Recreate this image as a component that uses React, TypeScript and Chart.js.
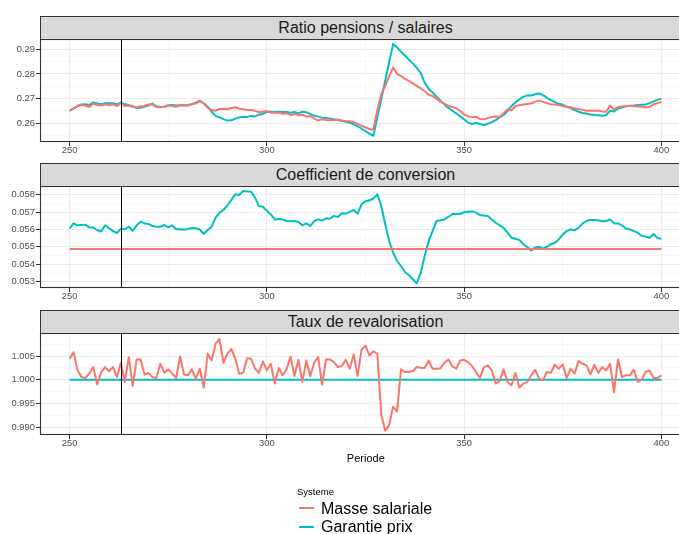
import React, { useEffect, useRef } from "react";
import { Chart, registerables } from "chart.js";
Chart.register(...registerables);

const FIRST_PERIOD = 250;
const MARKER_PERIOD = 263;
const X_MIN = 242.5;
const X_MAX = 407.5;
const seriesNames = ["Masse salariale", "Garantie prix"];
const seriesColors = ["#F8766D", "#00BFC4"];
const xMajorTicks = [250, 300, 350, 400];
const xMinorTicks = [275, 325, 375];

const ratioMasse = [
  0.2651, 0.2661, 0.2670, 0.2674, 0.2672, 0.2666, 0.2680, 0.2674, 0.2672, 0.2677,
  0.2673, 0.2677, 0.2670, 0.2681, 0.2670, 0.2672, 0.2667, 0.2665, 0.2669, 0.2670,
  0.2676, 0.2676, 0.2666, 0.2665, 0.2667, 0.2673, 0.2670, 0.2667, 0.2673, 0.2672,
  0.2672, 0.2677, 0.2681, 0.2689, 0.2681, 0.2663, 0.2654, 0.2651, 0.2658, 0.2659,
  0.2657, 0.2662, 0.2665, 0.2659, 0.2657, 0.2654, 0.2654, 0.2651, 0.2645, 0.2647,
  0.2650, 0.2643, 0.2643, 0.2643, 0.2639, 0.2640, 0.2634, 0.2638, 0.2632, 0.2635,
  0.2627, 0.2630, 0.2619, 0.2612, 0.2616, 0.2613, 0.2612, 0.2613, 0.2615, 0.2611,
  0.2609, 0.2608, 0.2604, 0.2598, 0.2590, 0.2583, 0.2577, 0.2574, 0.2655, 0.2718,
  0.2752, 0.2790, 0.2827, 0.2800, 0.2792, 0.2780, 0.2772, 0.2762, 0.2752, 0.2742,
  0.2730, 0.2716, 0.2710, 0.2700, 0.2688, 0.2680, 0.2670, 0.2666, 0.2661, 0.2650,
  0.2636, 0.2628, 0.2624, 0.2627, 0.2617, 0.2616, 0.2621, 0.2626, 0.2628, 0.2627,
  0.2641, 0.2657, 0.2652, 0.2670, 0.2673, 0.2676, 0.2678, 0.2680, 0.2688, 0.2692,
  0.2687, 0.2682, 0.2677, 0.2676, 0.2674, 0.2670, 0.2667, 0.2665, 0.2660, 0.2658,
  0.2655, 0.2651, 0.2652, 0.2651, 0.2652, 0.2648, 0.2647, 0.2672, 0.2656, 0.2666,
  0.2668, 0.2670, 0.2670, 0.2669, 0.2668, 0.2667, 0.2665, 0.2667, 0.2677, 0.2682,
  0.2686,
];

const ratioGarantie = [
  0.2651, 0.2659, 0.2670, 0.2676, 0.2677, 0.2674, 0.2685, 0.2680, 0.2677, 0.2681,
  0.2681, 0.2681, 0.2677, 0.2684, 0.2678, 0.2673, 0.2670, 0.2662, 0.2663, 0.2667,
  0.2673, 0.2680, 0.2669, 0.2666, 0.2667, 0.2672, 0.2674, 0.2672, 0.2673, 0.2673,
  0.2673, 0.2678, 0.2684, 0.2692, 0.2681, 0.2667, 0.2647, 0.2630, 0.2624, 0.2617,
  0.2611, 0.2612, 0.2619, 0.2624, 0.2627, 0.2626, 0.2630, 0.2628, 0.2635, 0.2638,
  0.2646, 0.2647, 0.2646, 0.2647, 0.2646, 0.2646, 0.2643, 0.2646, 0.2640, 0.2647,
  0.2645, 0.2638, 0.2631, 0.2627, 0.2623, 0.2622, 0.2619, 0.2616, 0.2613, 0.2609,
  0.2606, 0.2602, 0.2596, 0.2588, 0.2578, 0.2568, 0.2558, 0.2549, 0.2624, 0.2698,
  0.2773, 0.2848, 0.2922, 0.2908, 0.2890, 0.2875, 0.2858, 0.2843, 0.2825, 0.2803,
  0.2765, 0.2740, 0.2725, 0.2708, 0.2692, 0.2676, 0.2662, 0.2652, 0.2640, 0.2628,
  0.2616, 0.2603, 0.2597, 0.2601, 0.2597, 0.2593, 0.2598, 0.2605, 0.2613, 0.2624,
  0.2634, 0.2650, 0.2670, 0.2684, 0.2697, 0.2707, 0.2713, 0.2713, 0.2718, 0.2721,
  0.2714, 0.2703, 0.2694, 0.2686, 0.2679, 0.2675, 0.2668, 0.2662, 0.2654, 0.2647,
  0.2642, 0.2640, 0.2636, 0.2634, 0.2633, 0.2631, 0.2633, 0.2651, 0.2648, 0.2660,
  0.2664, 0.2669, 0.2671, 0.2672, 0.2674, 0.2675, 0.2676, 0.2682, 0.2689, 0.2695,
  0.2700,
];

const coefMasse = [
  0.05488, 0.05488, 0.05488, 0.05488, 0.05488, 0.05488, 0.05488, 0.05488, 0.05488, 0.05488,
  0.05488, 0.05488, 0.05488, 0.05488, 0.05488, 0.05488, 0.05488, 0.05488, 0.05488, 0.05488,
  0.05488, 0.05488, 0.05488, 0.05488, 0.05488, 0.05488, 0.05488, 0.05488, 0.05488, 0.05488,
  0.05488, 0.05488, 0.05488, 0.05488, 0.05488, 0.05488, 0.05488, 0.05488, 0.05488, 0.05488,
  0.05488, 0.05488, 0.05488, 0.05488, 0.05488, 0.05488, 0.05488, 0.05488, 0.05488, 0.05488,
  0.05488, 0.05488, 0.05488, 0.05488, 0.05488, 0.05488, 0.05488, 0.05488, 0.05488, 0.05488,
  0.05488, 0.05488, 0.05488, 0.05488, 0.05488, 0.05488, 0.05488, 0.05488, 0.05488, 0.05488,
  0.05488, 0.05488, 0.05488, 0.05488, 0.05488, 0.05488, 0.05488, 0.05488, 0.05488, 0.05488,
  0.05488, 0.05488, 0.05488, 0.05488, 0.05488, 0.05488, 0.05488, 0.05488, 0.05488, 0.05488,
  0.05488, 0.05488, 0.05488, 0.05488, 0.05488, 0.05488, 0.05488, 0.05488, 0.05488, 0.05488,
  0.05488, 0.05488, 0.05488, 0.05488, 0.05488, 0.05488, 0.05488, 0.05488, 0.05488, 0.05488,
  0.05488, 0.05488, 0.05488, 0.05488, 0.05488, 0.05488, 0.05488, 0.05488, 0.05488, 0.05488,
  0.05488, 0.05488, 0.05488, 0.05488, 0.05488, 0.05488, 0.05488, 0.05488, 0.05488, 0.05488,
  0.05488, 0.05488, 0.05488, 0.05488, 0.05488, 0.05488, 0.05488, 0.05488, 0.05488, 0.05488,
  0.05488, 0.05488, 0.05488, 0.05488, 0.05488, 0.05488, 0.05488, 0.05488, 0.05488, 0.05488,
  0.05488,
];

const coefGarantie = [
  0.05605, 0.05635, 0.05624, 0.05626, 0.05628, 0.05611, 0.05611, 0.05597, 0.05588, 0.05624,
  0.05607, 0.05591, 0.05580, 0.05605, 0.05601, 0.05616, 0.05593, 0.05624, 0.05645, 0.05635,
  0.05632, 0.05620, 0.05616, 0.05616, 0.05626, 0.05612, 0.05624, 0.05601, 0.05601, 0.05599,
  0.05603, 0.05609, 0.05607, 0.05599, 0.05576, 0.05597, 0.05616, 0.05668, 0.05697, 0.05712,
  0.05739, 0.05770, 0.05802, 0.05798, 0.05821, 0.05819, 0.05817, 0.05783, 0.05735, 0.05731,
  0.05708, 0.05687, 0.05658, 0.05660, 0.05658, 0.05649, 0.05647, 0.05649, 0.05643, 0.05624,
  0.05635, 0.05620, 0.05649, 0.05658, 0.05651, 0.05664, 0.05662, 0.05678, 0.05672, 0.05693,
  0.05691, 0.05701, 0.05712, 0.05691, 0.05745, 0.05762, 0.05768, 0.05777, 0.05802, 0.05735,
  0.05630, 0.05534, 0.05467, 0.05419, 0.05390, 0.05356, 0.05337, 0.05314, 0.05291, 0.05352,
  0.05448, 0.05534, 0.05591, 0.05649, 0.05653, 0.05658, 0.05672, 0.05689, 0.05689, 0.05689,
  0.05699, 0.05702, 0.05704, 0.05697, 0.05683, 0.05681, 0.05678, 0.05658, 0.05639, 0.05624,
  0.05609, 0.05582, 0.05553, 0.05547, 0.05540, 0.05515, 0.05499, 0.05480, 0.05496, 0.05501,
  0.05490, 0.05501, 0.05515, 0.05524, 0.05543, 0.05572, 0.05591, 0.05601, 0.05595, 0.05611,
  0.05634, 0.05649, 0.05655, 0.05655, 0.05653, 0.05647, 0.05649, 0.05658, 0.05635, 0.05635,
  0.05624, 0.05605, 0.05601, 0.05591, 0.05582, 0.05563, 0.05559, 0.05553, 0.05574, 0.05551,
  0.05547,
];

const tauxMasse = [
  1.00441, 1.00580, 1.00198, 1.00059, 1.00038, 1.00128, 1.00267, 0.99899, 1.00163, 1.00267,
  1.00177, 1.00267, 1.00059, 1.00358, 0.99955, 1.00476, 0.99872, 1.00427, 1.00427, 1.00108,
  1.00142, 1.00059, 1.00038, 1.00337, 1.00149, 1.00219, 1.00128, 1.00038, 1.00490, 1.00108,
  1.00094, 1.00219, 1.00024, 1.00233, 0.99837, 1.00545, 1.00406, 1.00753, 1.00858, 1.00358,
  1.00545, 1.00649, 1.00441, 1.00128, 1.00149, 1.00455, 1.00441, 1.00233, 1.00149, 1.00385,
  1.00198, 1.00337, 0.99920, 1.00247, 1.00094, 1.00219, 1.00483, 1.00080, 1.00420, 0.99955,
  1.00406, 1.00073, 1.00358, 1.00476, 0.99899, 1.00427, 1.00427, 1.00372, 1.00267, 1.00288,
  1.00420, 1.00233, 1.00531, 1.00080, 1.00635, 1.00719, 1.00510, 1.00601, 1.00545, 0.99260,
  0.98927, 0.99052, 0.99434, 0.99330, 1.00219, 1.00163, 1.00163, 1.00184, 1.00267, 1.00253,
  1.00247, 1.00406, 1.00233, 1.00233, 1.00240, 1.00358, 1.00427, 1.00281, 1.00233, 1.00406,
  1.00420, 1.00372, 1.00288, 1.00163, 1.00038, 1.00267, 1.00302, 1.00198, 0.99920, 0.99976,
  1.00219, 0.99955, 0.99885, 1.00142, 0.99837, 0.99920, 0.99955, 1.00094, 1.00212, 1.00024,
  0.99990, 1.00163, 1.00149, 1.00316, 1.00233, 1.00323, 1.00038, 1.00233, 1.00128, 1.00392,
  1.00337, 1.00302, 1.00115, 1.00316, 1.00142, 1.00267, 1.00198, 1.00337, 0.99733, 1.00427,
  1.00059, 1.00094, 1.00094, 1.00212, 0.99955, 1.00003, 1.00163, 1.00198, 1.00038, 1.00038,
  1.00094,
];

const tauxGarantie = [
  1, 1, 1, 1, 1, 1, 1, 1, 1, 1,
  1, 1, 1, 1, 1, 1, 1, 1, 1, 1,
  1, 1, 1, 1, 1, 1, 1, 1, 1, 1,
  1, 1, 1, 1, 1, 1, 1, 1, 1, 1,
  1, 1, 1, 1, 1, 1, 1, 1, 1, 1,
  1, 1, 1, 1, 1, 1, 1, 1, 1, 1,
  1, 1, 1, 1, 1, 1, 1, 1, 1, 1,
  1, 1, 1, 1, 1, 1, 1, 1, 1, 1,
  1, 1, 1, 1, 1, 1, 1, 1, 1, 1,
  1, 1, 1, 1, 1, 1, 1, 1, 1, 1,
  1, 1, 1, 1, 1, 1, 1, 1, 1, 1,
  1, 1, 1, 1, 1, 1, 1, 1, 1, 1,
  1, 1, 1, 1, 1, 1, 1, 1, 1, 1,
  1, 1, 1, 1, 1, 1, 1, 1, 1, 1,
  1, 1, 1, 1, 1, 1, 1, 1, 1, 1,
  1,
];

const ratioMajorTicks = [0.26, 0.27, 0.28, 0.29];
const ratioMinorTicks = [0.255, 0.265, 0.275, 0.285];
const coefMajorTicks = [0.053, 0.054, 0.055, 0.056, 0.057, 0.058];
const coefMinorTicks = [0.0535, 0.0545, 0.0555, 0.0565, 0.0575, 0.0585];
const tauxMajorTicks = [0.99, 0.995, 1.0, 1.005];
const tauxMinorTicks = [0.9925, 0.9975, 1.0025, 1.0075];

const FONT = "'Liberation Sans', Arial, Helvetica, sans-serif";
const CANVAS_W = 691;
const PAD_TOP = 6;
const X_AXIS_H = 18;

type PanelDef = {
  title: string;
  series: number[][];
  yMin: number;
  yMax: number;
  major: number[];
  minor: number[];
  decimals: number;
  plotTop: number;
  plotBottom: number;
};

const panels: PanelDef[] = [
  { title: "Ratio pensions / salaires", series: [ratioMasse, ratioGarantie], yMin: 0.25242, yMax: 0.29418,
    major: ratioMajorTicks, minor: ratioMinorTicks, decimals: 2, plotTop: 39, plotBottom: 142 },
  { title: "Coefficient de conversion", series: [coefMasse, coefGarantie], yMin: 0.052638, yMax: 0.0585,
    major: coefMajorTicks, minor: coefMinorTicks, decimals: 3, plotTop: 186, plotBottom: 288 },
  { title: "Taux de revalorisation", series: [tauxMasse, tauxGarantie], yMin: 0.98838, yMax: 1.00984,
    major: tauxMajorTicks, minor: tauxMinorTicks, decimals: 3, plotTop: 333, plotBottom: 435 },
];

const isIn = (arr: number[], v: number) => arr.some((a) => Math.abs(a - v) < 1e-9);

const framePlugin = {
  id: "panelFrame",
  afterDatasetsDraw(chart: any) {
    const { ctx, chartArea: a, scales } = chart;
    ctx.save();
    const vx = Math.round(scales.x.getPixelForValue(MARKER_PERIOD)) + 0.5;
    ctx.strokeStyle = "#000000";
    ctx.lineWidth = 1;
    ctx.beginPath();
    ctx.moveTo(vx, a.top);
    ctx.lineTo(vx, a.bottom);
    ctx.stroke();
    ctx.strokeStyle = "#333333";
    ctx.lineWidth = 1.1;
    ctx.strokeRect(a.left + 0.5, a.top + 0.5, a.right - a.left - 1, a.bottom - a.top - 1);
    ctx.restore();
  },
};

function Panel({ def }: { def: PanelDef }) {
  const ref = useRef<HTMLCanvasElement | null>(null);
  const height = PAD_TOP + (def.plotBottom - def.plotTop) + X_AXIS_H;
  useEffect(() => {
    if (!ref.current) return;
    const periods = def.series[0].map((_, i) => FIRST_PERIOD + i);
    const datasets = def.series.map((vals, s) => ({
      label: seriesNames[s],
      data: periods.map((p, i) => ({ x: p, y: vals[i] })),
      borderColor: seriesColors[s],
      backgroundColor: seriesColors[s],
      borderWidth: 2,
      pointRadius: 0,
      tension: 0,
      fill: false,
      borderJoinStyle: "round" as const,
    }));
    const xAll = [...xMajorTicks, ...xMinorTicks].sort((a, b) => a - b);
    const yAll = [...def.major, ...def.minor].sort((a, b) => a - b);
    const gridColor = (maj: number[]) => (c: any) =>
      c.tick && isIn(maj, c.tick.value) ? "#EBEBEB" : "#F3F3F3";
    const gridWidth = (maj: number[]) => (c: any) =>
      c.tick && isIn(maj, c.tick.value) ? 1 : 0.6;
    const tickColor = (maj: number[]) => (c: any) =>
      c.tick && isIn(maj, c.tick.value) ? "#333333" : "rgba(0,0,0,0)";
    const chart = new Chart(ref.current, {
      type: "line",
      data: { datasets },
      plugins: [framePlugin],
      options: {
        responsive: false,
        animation: false,
        devicePixelRatio: 1,
        layout: { padding: { top: PAD_TOP, left: 0, right: 0, bottom: 0 } },
        plugins: { legend: { display: false }, tooltip: { enabled: false }, title: { display: false } },
        scales: {
          x: {
            type: "linear",
            min: X_MIN,
            max: X_MAX,
            afterBuildTicks: (axis: any) => {
              axis.ticks = xAll.map((v) => ({ value: v }));
            },
            afterFit: (axis: any) => {
              axis.height = X_AXIS_H;
            },
            ticks: {
              autoSkip: false,
              maxRotation: 0,
              padding: 0,
              color: "#4D4D4D",
              font: { family: FONT, size: 9.4, lineHeight: 1 },
              callback: (v: any) => (isIn(xMajorTicks, Number(v)) ? String(v) : ""),
            },
            grid: {
              color: gridColor(xMajorTicks),
              lineWidth: gridWidth(xMajorTicks),
              tickColor: tickColor(xMajorTicks),
              tickLength: 4,
              tickWidth: 1,
            },
            border: { display: false },
          },
          y: {
            type: "linear",
            min: def.yMin,
            max: def.yMax,
            afterBuildTicks: (axis: any) => {
              axis.ticks = yAll.map((v) => ({ value: v }));
            },
            afterFit: (axis: any) => {
              axis.width = 40;
            },
            ticks: {
              autoSkip: false,
              padding: 1,
              color: "#4D4D4D",
              font: { family: FONT, size: 9.4, lineHeight: 1 },
              callback: (v: any) =>
                isIn(def.major, Number(v)) ? Number(v).toFixed(def.decimals) : "",
            },
            grid: {
              color: gridColor(def.major),
              lineWidth: gridWidth(def.major),
              tickColor: tickColor(def.major),
              tickLength: 4,
              tickWidth: 1,
            },
            border: { display: false },
          },
        },
      } as any,
    });
    return () => chart.destroy();
  }, [def]);

  return (
    <>
      <canvas
        ref={ref}
        width={CANVAS_W}
        height={height}
        style={{ position: "absolute", left: 0, top: def.plotTop - PAD_TOP, width: CANVAS_W, height }}
      />
      <div
        style={{
          position: "absolute",
          left: 40,
          top: def.plotTop - 23,
          width: CANVAS_W - 40,
          height: 24,
          boxSizing: "border-box",
          border: "1px solid #333333",
          background: "#D9D9D9",
          color: "#1A1A1A",
          fontFamily: FONT,
          fontSize: 16,
          lineHeight: "22px",
          textAlign: "center",
          whiteSpace: "nowrap",
        }}
      >
        {def.title}
      </div>
    </>
  );
}

export default function App() {
  return (
    <div
      style={{
        position: "fixed",
        left: 0,
        top: 0,
        width: 679,
        height: 534,
        overflow: "hidden",
        background: "#FFFFFF",
        fontFamily: FONT,
      }}
    >
      {panels.map((p) => (
        <Panel key={p.title} def={p} />
      ))}
      <div
        style={{
          position: "absolute",
          left: 365.8,
          top: 452.5,
          transform: "translateX(-50%)",
          fontSize: 11,
          lineHeight: "11px",
          color: "#000000",
          whiteSpace: "nowrap",
        }}
      >
        Periode
      </div>
      <div
        style={{
          position: "absolute",
          left: 297,
          top: 486.8,
          fontSize: 9.5,
          lineHeight: "9.5px",
          color: "#000000",
          whiteSpace: "nowrap",
        }}
      >
        Systeme
      </div>
      {seriesNames.map((name, i) => (
        <React.Fragment key={name}>
          <div
            style={{
              position: "absolute",
              left: 299,
              top: 507.3 + i * 19,
              width: 15,
              height: 2,
              background: seriesColors[i],
            }}
          />
          <div
            style={{
              position: "absolute",
              left: 321,
              top: 501 + i * 18,
              fontSize: 16,
              lineHeight: "16px",
              color: "#000000",
              whiteSpace: "nowrap",
            }}
          >
            {name}
          </div>
        </React.Fragment>
      ))}
    </div>
  );
}
